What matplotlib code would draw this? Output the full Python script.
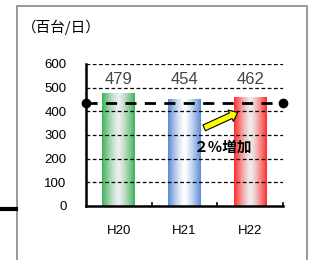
import numpy as np
import matplotlib
matplotlib.use('Agg')
import matplotlib.pyplot as plt
from matplotlib.patches import Rectangle
from matplotlib.colors import LinearSegmentedColormap
from matplotlib.lines import Line2D

years = ['H20', 'H21', 'H22']
traffic = [479, 454, 462]
ref_level = 437
bar_colors = ['#3cb35a', '#5b8ad6', '#ff2a2a']
center_colors = ['#eeeeee', '#ffffff', '#eeeeee']
yticks = [0, 100, 200, 300, 400, 500, 600]

JP = ['Noto Sans CJK JP', 'DejaVu Sans']
NUM = 'Liberation Sans'

fig = plt.figure(figsize=(3.14, 2.6), dpi=100)

# outer frame and the stray black line on the left
fig.patches.append(Rectangle((16.5 / 314, -0.1), 290 / 314, 1.1 - 6 / 260, transform=fig.transFigure,
                             fill=False, edgecolor='#888888', lw=1.2))
fig.add_artist(Line2D([0, 16 / 314], [1 - 209 / 260] * 2, transform=fig.transFigure, color='black', lw=3))

ax = fig.add_axes([86 / 314, 1 - 206 / 260, 197 / 314, 142 / 260])
x = np.arange(len(years))
bars = ax.bar(x, traffic, width=0.5, color='none', zorder=2)

grad = np.abs(np.linspace(-1, 1, 200)) ** 1.3
for b, c1, c0 in zip(bars, bar_colors, center_colors):
    cmap = LinearSegmentedColormap.from_list('g', [c0, c1])
    x0, y0, w, h = b.get_x(), b.get_y(), b.get_width(), b.get_height()
    im = ax.imshow(grad[None, :], cmap=cmap, extent=[x0, x0 + w, y0, y0 + h],
                   aspect='auto', zorder=2, vmin=0, vmax=1)
    im.set_clip_path(b)

for xi, v in zip(x, traffic):
    ax.text(xi, 503, str(v), ha='center', va='bottom', fontsize=12, family=NUM, color='#444444', zorder=4)

ax.set_xlim(-0.5, 2.5)
ax.set_ylim(0, 600)
ax.set_yticks(yticks)
for t in yticks[1:]:
    ax.axhline(t, color='black', lw=0.9, ls=(0, (3, 2)), zorder=3)

ax.plot([-0.5, 2.5], [ref_level, ref_level], color='black', lw=2, ls=(0, (4, 3)),
        marker='o', markersize=6, zorder=5, clip_on=False)

ax.annotate('', xy=(1.81, 395), xytext=(1.3, 330), zorder=6,
            arrowprops=dict(arrowstyle='simple,head_length=0.55,head_width=0.9,tail_width=0.45',
                            fc='#ffff00', ec='black', lw=0.8, shrinkA=0, shrinkB=0))
ax.text(1.59, 249, '２％増加', ha='center', va='center', fontsize=10.5, fontweight='bold', family=JP, zorder=6)

ax.set_xticks(x)
ax.set_xticklabels(years, family=NUM, fontsize=9.5)
ax.tick_params(axis='x', length=0, pad=14)
for b in [0.5, 1.5, 2.5]:
    ax.plot([b, b], [0, 12], color='black', lw=1.2, zorder=4, clip_on=False)
ax.tick_params(axis='y', length=0, labelsize=9.5, pad=14)
for lab in ax.get_yticklabels():
    lab.set_family(NUM)

for s in ['top', 'right']:
    ax.spines[s].set_visible(False)
ax.spines['left'].set_linewidth(1.8)
ax.spines['bottom'].set_linewidth(1.8)

fig.text(22 / 314, 1 - 27 / 260, '（百台/日）', ha='left', va='center', fontsize=10.5, family=JP)

fig.savefig('out.png', dpi=100)
